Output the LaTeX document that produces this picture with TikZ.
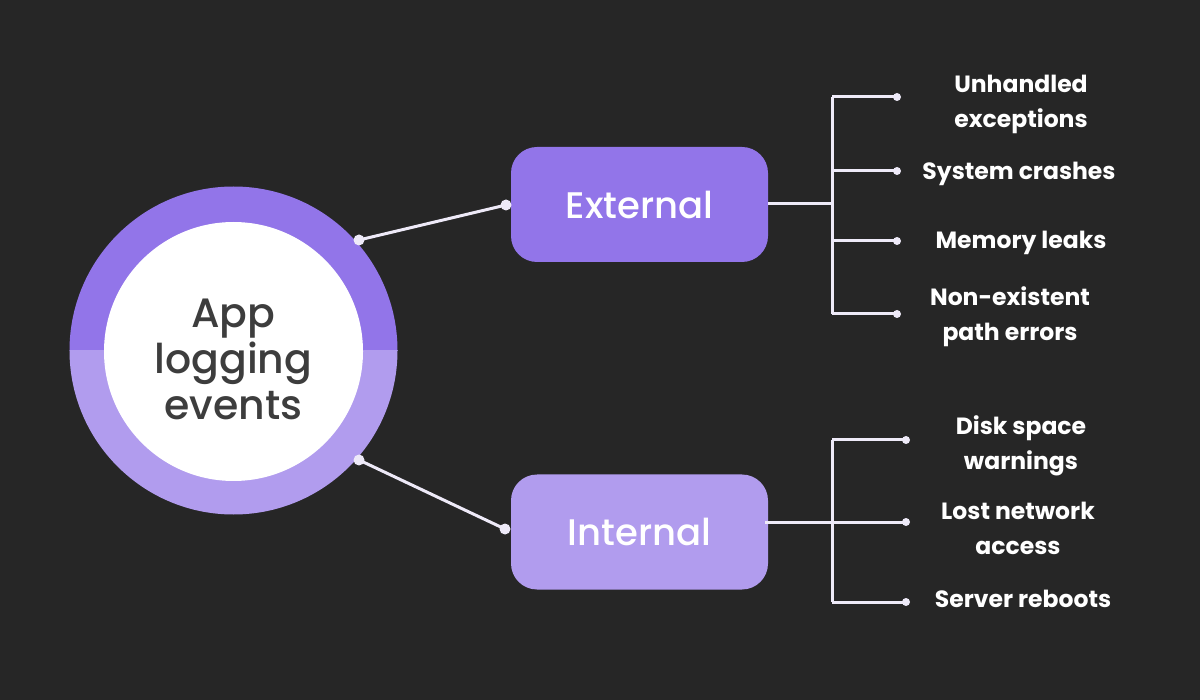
\documentclass[tikz,border=0pt]{standalone}
\usepackage{fontspec}
\setmainfont{Poppins}
\newfontfamily\medfont{Poppins Medium}
\definecolor{bg}{HTML}{262626}
\definecolor{extc}{HTML}{9275E9}
\definecolor{intc}{HTML}{B19CEE}
\definecolor{linec}{HTML}{EEEAF8}
\definecolor{txt}{HTML}{3D3D3D}
\begin{document}
\begin{tikzpicture}[x=1pt,y=-1pt,
  conn/.style={draw=linec, line width=3pt},
  bdot/.style={circle, fill=linec, inner sep=0pt, minimum size=11pt},
  sdot/.style={circle, fill=linec, inner sep=0pt, minimum size=8pt},
  catbox/.style={rounded corners=26pt, minimum width=257pt, minimum height=115pt, text=white, inner sep=0pt, font=\medfont\fontsize{37}{40}\selectfont},
  item/.style={text=white, inner sep=0pt, font=\bfseries\fontsize{23.5}{35}\selectfont, align=center}]
\fill[bg] (0,0) rectangle (1200,700);
\useasboundingbox (0,0) rectangle (1200,700);
% ring
\coordinate (C) at (233.5,350.5);
\begin{scope}
  \clip (60,170) rectangle (410,350.5);
  \fill[extc] (C) circle (164pt);
\end{scope}
\begin{scope}
  \clip (60,350.5) rectangle (410,530);
  \fill[intc] (C) circle (164pt);
\end{scope}
\node[circle, fill=white, minimum size=259pt, inner sep=0pt] (hub) at (233.5,351.5) {};
\node[text=txt, align=center, inner sep=0pt,
      font=\medfont\fontsize{41}{46}\selectfont] (hubtxt) at (233.5,359) {App\\logging\\events};
% category boxes
\node[catbox, fill=extc] (ext) at (639.5,204.5) {External};
\node[catbox, fill=intc] (int) at (639.5,532) {Internal};
% hub connectors
\coordinate (h1) at (359,240);
\coordinate (h2) at (359,460);
\coordinate (e1) at (506,205);
\coordinate (i1) at (505,529);
\draw[conn] (h1) -- (e1);
\draw[conn] (h2) -- (i1);
\foreach \p in {h1,h2,e1,i1} \node[bdot] at (\p) {};
% external bracket
\coordinate (eb) at (832,204);
\coordinate (et) at (832,97);
\coordinate (eb4) at (832,314);
\draw[conn] (768,204) -- (eb);
\draw[conn] (et) -- (eb4);
\foreach \y/\n in {97/a,171/b,241/c,314/d}{
  \coordinate (ex\n) at (832,\y);
  \coordinate (ed\n) at (897,\y);
  \draw[conn] (ex\n) -- (ed\n);
  \node[sdot] at (ed\n) {};
}
% internal bracket
\draw[conn] (765,522) -- (832,522);
\draw[conn] (832,440) -- (832,602);
\foreach \y/\n in {440/a,522/b,602/c}{
  \coordinate (ix\n) at (832,\y);
  \coordinate (id\n) at (906,\y);
  \draw[conn] (ix\n) -- (id\n);
  \node[sdot] at (id\n) {};
}
% items
\node[item] (u1) at (1021,104) {Unhandled\\exceptions};
\node[item] (u2) at (1019,174) {System crashes};
\node[item] (u3) at (1021,243) {Memory leaks};
\node[item] (u4) at (1010,317) {Non-existent\\path errors};
\node[item] (v1) at (1021,446) {Disk space\\warnings};
\node[item] (v2) at (1018,528) {Lost network\\access};
\node[item] (v3) at (1023,599) {Server reboots};
\end{tikzpicture}
\end{document}
